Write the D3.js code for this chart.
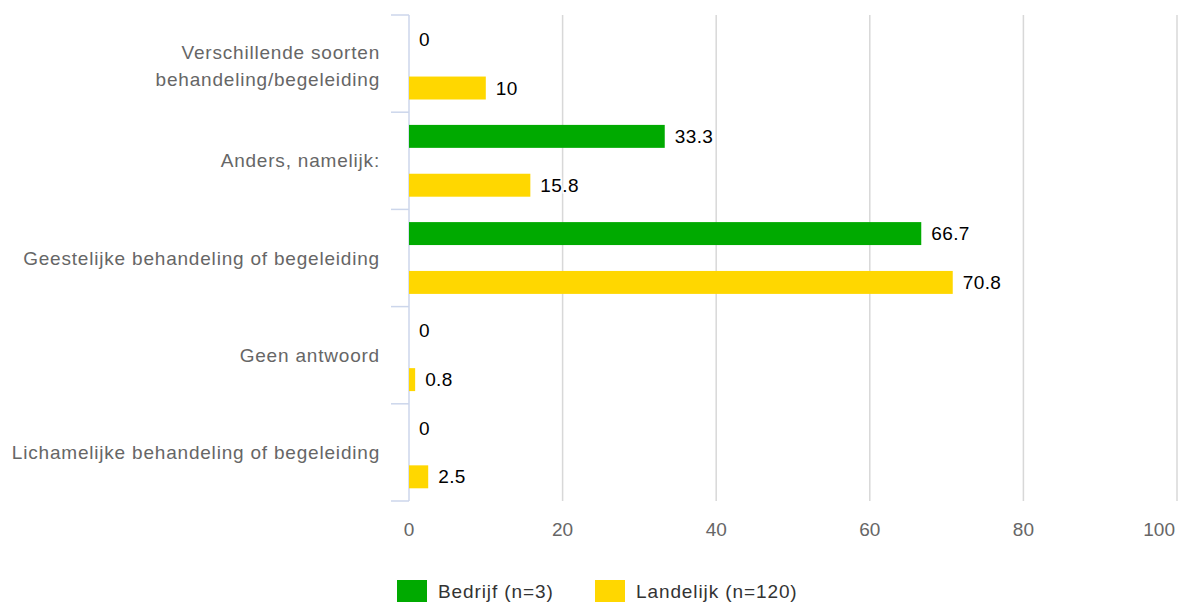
<!DOCTYPE html>
<html>
<head>
<meta charset="utf-8">
<script src="https://cdn.jsdelivr.net/npm/d3@7"></script>
<style>
  body { margin: 0; background: #fff; }
  svg { font-family: "Liberation Sans", Arial, sans-serif; }
</style>
</head>
<body>
<svg id="chart"></svg>
<script>
const categories = [
  ['Verschillende soorten', 'behandeling/begeleiding'],
  ['Anders, namelijk:'],
  ['Geestelijke behandeling of begeleiding'],
  ['Geen antwoord'],
  ['Lichamelijke behandeling of begeleiding']
]
const seriesNames = ['Bedrijf (n=3)', 'Landelijk (n=120)']
const bedrijf = [0, 33.3, 66.7, 0, 0]
const landelijk = [10, 15.8, 70.8, 0.8, 2.5]
const xTicks = [0, 20, 40, 60, 80, 100]
const colors = ['#00aa00', '#ffd700']

const width = 1183
const height = 604
const margin = { top: 15, right: 4, bottom: 103, left: 409 }
const innerHeight = height - margin.top - margin.bottom

const svg = d3.select('#chart')
  .attr('width', width)
  .attr('height', height)

const g = svg.append('g')
  .attr('transform', `translate(${margin.left},${margin.top})`)

const xScale = d3.scaleLinear().domain([0, 100]).range([0, 768])
const yScale = d3.scaleBand()
  .domain(d3.range(categories.length))
  .range([0, innerHeight])
const ySub = d3.scaleBand()
  .domain([0, 1])
  .range([0, yScale.bandwidth()])
  .paddingInner(0.53)
  .paddingOuter(0.26)

// gridlines
g.selectAll('.grid')
  .data(xTicks.slice(1))
  .enter()
  .append('line')
  .attr('x1', d => xScale(d))
  .attr('x2', d => xScale(d))
  .attr('y1', 0)
  .attr('y2', innerHeight)
  .attr('stroke', '#d8d8d8')
  .attr('stroke-width', 1.5)

// x tick labels
g.selectAll('.xlab')
  .data(xTicks)
  .enter()
  .append('text')
  .attr('x', d => d === 100 ? xScale(d) - 2 : xScale(d))
  .attr('y', innerHeight + 35)
  .attr('text-anchor', d => d === 100 ? 'end' : 'middle')
  .attr('fill', '#666')
  .attr('font-size', 19)
  .text(d => d)

// y axis line and ticks
g.append('line')
  .attr('x1', 0).attr('x2', 0)
  .attr('y1', 0).attr('y2', innerHeight)
  .attr('stroke', '#ccd6eb').attr('stroke-width', 1.5)

g.selectAll('.ytick')
  .data(d3.range(categories.length + 1))
  .enter()
  .append('line')
  .attr('x1', -18).attr('x2', 0)
  .attr('y1', d => d * yScale.step())
  .attr('y2', d => d * yScale.step())
  .attr('stroke', '#ccd6eb').attr('stroke-width', 1.5)

// category labels
categories.forEach((lines, i) => {
  const cy = yScale(i) + yScale.bandwidth() / 2 + (lines.length > 1 ? 2 : 0)
  const lh = 27
  const t = g.append('text')
    .attr('text-anchor', 'end')
    .attr('fill', '#666')
    .attr('font-size', 19)
    .attr('letter-spacing', 0.8)
  lines.forEach((line, j) => {
    t.append('tspan')
      .attr('x', -29)
      .attr('y', cy + (j - (lines.length - 1) / 2) * lh)
      .attr('dy', '0.35em')
      .text(line)
  })
})

// bars
const seriesData = [bedrijf, landelijk]
seriesData.forEach((values, s) => {
  const grp = g.append('g')
  grp.selectAll('rect')
    .data(values)
    .enter()
    .append('rect')
    .attr('x', 0)
    .attr('y', (d, i) => yScale(i) + ySub(s))
    .attr('width', d => xScale(d))
    .attr('height', ySub.bandwidth())
    .attr('fill', colors[s])

  grp.selectAll('text')
    .data(values)
    .enter()
    .append('text')
    .attr('x', d => xScale(d) + 10)
    .attr('y', (d, i) => yScale(i) + ySub(s) + ySub.bandwidth() / 2)
    .attr('dy', '0.35em')
    .attr('fill', '#000')
    .attr('stroke', '#fff')
    .attr('stroke-width', 3)
    .attr('paint-order', 'stroke')
    .attr('font-size', 19)
    .attr('letter-spacing', 0.4)
    .text(d => d)
})

// legend
const legend = svg.append('g')
  .attr('transform', 'translate(397,580)')
const offsets = [0, 198]
seriesNames.forEach((name, i) => {
  legend.append('rect')
    .attr('x', offsets[i]).attr('y', 0)
    .attr('width', 30).attr('height', 22)
    .attr('fill', colors[i])
  legend.append('text')
    .attr('x', offsets[i] + 41).attr('y', 11)
    .attr('dy', '0.35em')
    .attr('fill', '#333')
    .attr('font-size', 19)
    .attr('letter-spacing', 0.9)
    .text(name)
})
</script>
</body>
</html>
